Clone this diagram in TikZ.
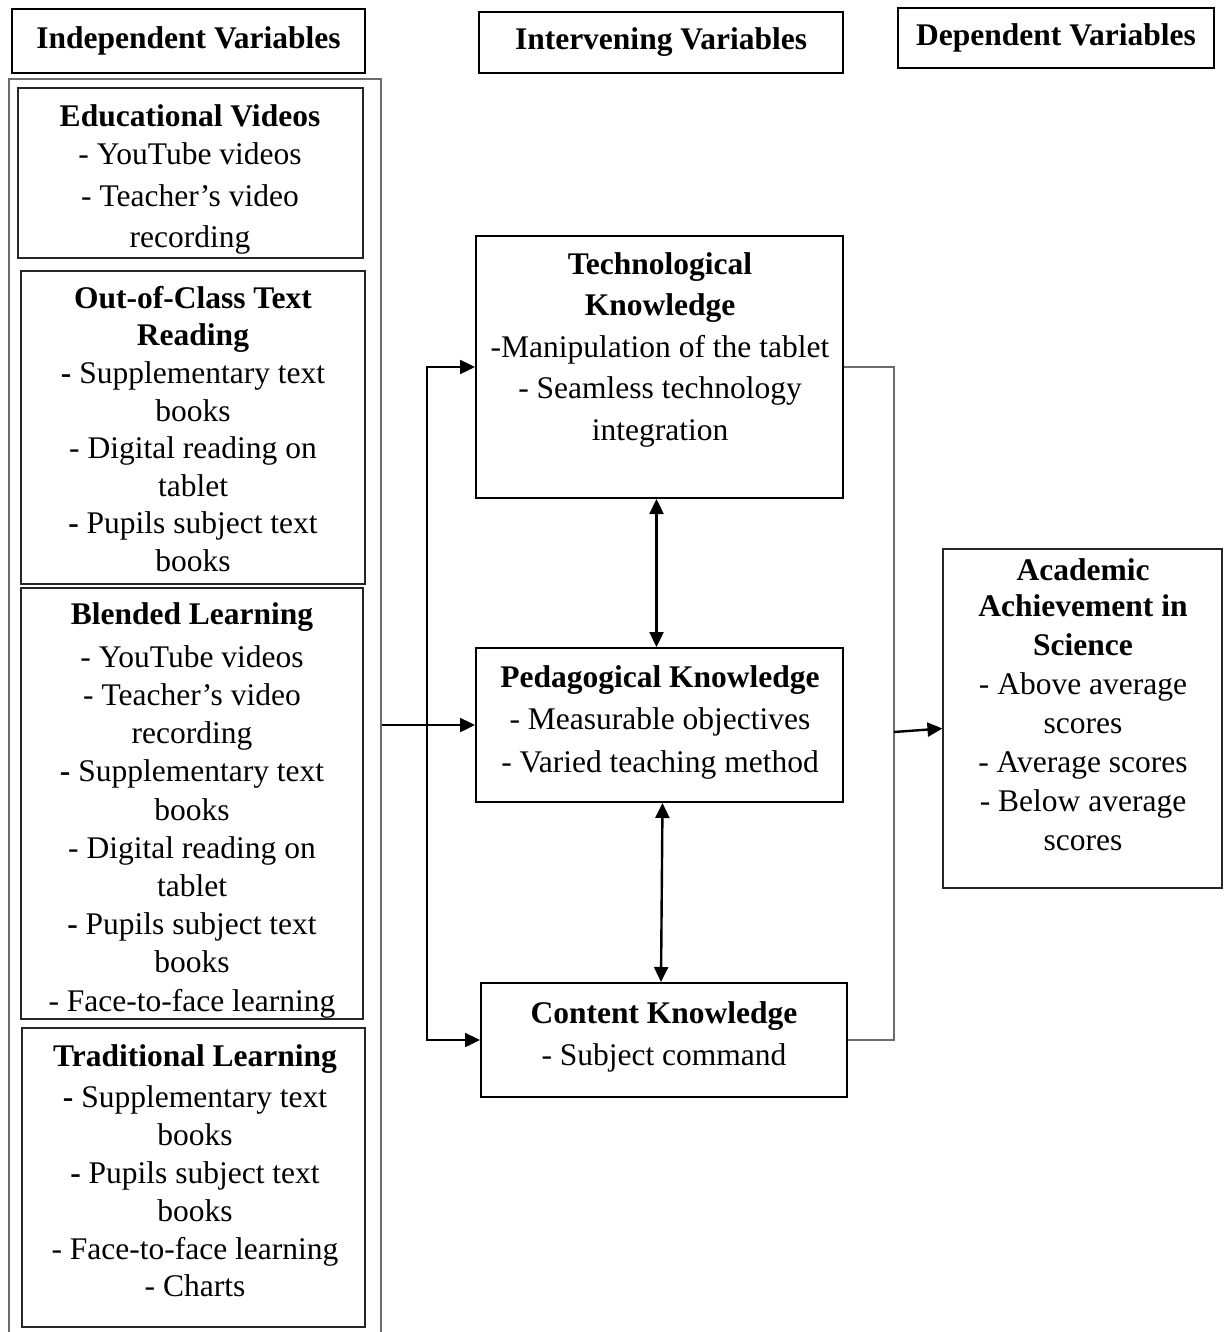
\documentclass[tikz,border=0pt]{standalone}
\usepackage{fontspec}
\setmainfont{Liberation Serif}
\usetikzlibrary{arrows.meta,calc}

\definecolor{framegray}{gray}{0.42}
\definecolor{boxgray}{gray}{0.15}

\begin{document}
\begin{tikzpicture}[x=1pt,y=-1pt,
	head/.style={draw, line width=1.8pt, inner sep=0pt, font=\bfseries\fontsize{31.5}{38}\selectfont},
	outerbox/.style={draw=framegray, line width=1.6pt, inner sep=0pt},
	ivbox/.style={draw=boxgray, line width=1.2pt, inner sep=0pt},
	kbox/.style={draw, line width=2pt, inner sep=0pt},
	dvbox/.style={draw=boxgray, line width=1.1pt, inner sep=0pt},
	txt/.style={align=center, inner sep=0pt, anchor=north},
	link/.style={line width=2.4pt, -{Triangle[length=15pt,width=14pt]}},
	twoway/.style={line width=2.4pt, {Triangle[length=15pt,width=14pt]}-{Triangle[length=15pt,width=14pt]}},
	joinline/.style={draw=framegray, line width=1.1pt}]
	\useasboundingbox (0,0) rectangle (1224,1332);
	
	% headings
	\node[head, minimum width=353, minimum height=64] (ivh) at (188.5,41) {Independent Variables};
	\node[head, minimum width=364, minimum height=61] (mvh) at (661,42.5) {Intervening Variables};
	\node[head, minimum width=316, minimum height=60] (dvh) at (1056,38) {Dependent Variables};
	
	% independent variables
	\node[outerbox, minimum width=372, minimum height=1280, anchor=north west] (iv) at (8,78) {};
	\node[ivbox, minimum width=345, minimum height=170] (ev) at (190.5,173) {};
	\node[ivbox, minimum width=344, minimum height=313] (oc) at (193,427.5) {};
	\node[ivbox, minimum width=342, minimum height=431] (bl) at (192,803.5) {};
	\node[ivbox, minimum width=343, minimum height=299] (tl) at (193.5,1177.5) {};
	
	\begin{scope}
	\clip (ev.north west) rectangle (ev.south east);
	\node[txt, font=\fontsize{31.5}{41.5}\selectfont] (ev-t) at (190,104) {\textbf{Educational Videos}\\[-3pt]- YouTube videos\\- Teacher's video\\recording};
	\end{scope}
	\node[txt, font=\fontsize{31.5}{37.6}\selectfont] (oc-t) at (193,286) {\textbf{Out-of-Class Text}\\\textbf{Reading}\\\textbf{-} Supplementary text\\books\\- Digital reading on\\tablet\\\textbf{-} Pupils subject text\\books};
	\begin{scope}
	\clip (bl.north west) rectangle (bl.south east);
	\node[txt, font=\fontsize{31.5}{38.2}\selectfont] (bl-t) at (192,602) {\textbf{Blended Learning}\\[5pt]- YouTube videos\\- Teacher's video\\recording\\\textbf{-} Supplementary text\\books\\- Digital reading on\\tablet\\\textbf{-} Pupils subject text\\books\\- Face-to-face learning};
	\end{scope}
	\node[txt, font=\fontsize{31.5}{37.8}\selectfont] (tl-t) at (195,1044) {\textbf{Traditional Learning}\\[4pt]\textbf{-} Supplementary text\\books\\\textbf{-} Pupils subject text\\books\\- Face-to-face learning\\- Charts};
	
	% intervening variables
	\node[kbox, minimum width=367, minimum height=262] (tk) at (659.5,367) {};
	\node[kbox, minimum width=367, minimum height=154] (pk) at (659.5,725) {};
	\node[kbox, minimum width=366, minimum height=114] (ck) at (664,1040) {};
	\node[txt, font=\fontsize{31.5}{41.5}\selectfont] (tk-t) at (660,252) {\textbf{Technological}\\\textbf{Knowledge}\\-Manipulation of the tablet\\- Seamless technology\\integration};
	\node[txt, font=\fontsize{31.5}{42.5}\selectfont] (pk-t) at (660,665) {\textbf{Pedagogical Knowledge}\\- Measurable objectives\\- Varied teaching method};
	\node[txt, font=\fontsize{31.5}{42}\selectfont] (ck-t) at (664,1001) {\textbf{Content Knowledge}\\- Subject command};
	
	% dependent variable
	\node[dvbox, minimum width=279, minimum height=339] (dv) at (1082.5,718.5) {};
	\node[txt, font=\fontsize{31.5}{39}\selectfont] (dv-t) at (1083,558) {\textbf{Academic}\\[-3pt]\textbf{Achievement in}\\\textbf{Science}\\- Above average\\scores\\- Average scores\\- Below average\\scores};
	
	% connectors
	\draw[link] (iv.east |- pk.west) -- (pk.west);
	\draw[twoway] (tk.west) -- ++(-48,0) |- (ck.west);
	\draw[twoway] ($(tk.south)+(-3,0)$) -- ($(pk.north)+(-3,0)$);
	\draw[twoway] ($(pk.south)+(3,0)$) -- ($(ck.north)+(-3,0)$);
	\draw[joinline] (tk.east) -- ++(50,0) coordinate (rb) |- (ck.east);
	\draw[link] ($(rb)+(0,365)$) -- ($(dv.west)+(0,10)$);
\end{tikzpicture}
\end{document}
